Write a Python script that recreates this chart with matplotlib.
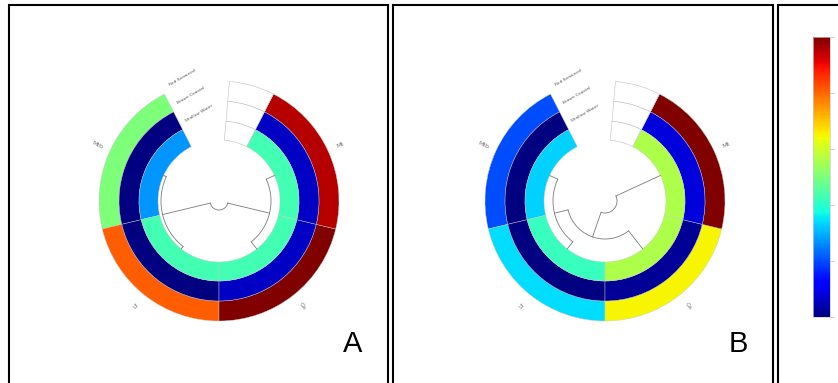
import numpy as np
import matplotlib.pyplot as plt
from matplotlib.patches import Rectangle
from matplotlib import colors, colorbar

# sectors, counter-clockwise starting at the left edge of the top gap
categories = ["Mtb", "Lf", "Gs", "Mt"]
ring_names = ["Red Seaweed", "Brown Coastal", "Shallow Water"]  # outer -> inner

# panel A, values scaled 0..1 (jet colormap)
a_outer = [0.50, 0.81, 1.00, 0.95]
a_middle = [0.00, 0.00, 0.06, 0.06]
a_inner = [0.27, 0.43, 0.43, 0.43]

# panel B
b_outer = [0.20, 0.34, 0.65, 1.00]
b_middle = [0.00, 0.00, 0.02, 0.08]
b_inner = [0.33, 0.42, 0.56, 0.56]

# dendrogram merges: (child, child, radius); leaves are 0..3, new nodes 4, 5, 6
a_merges = [(0, 1, 58), (2, 3, 52), (4, 5, 9)]
b_merges = [(0, 1, 52), (4, 2, 38), (5, 3, 12)]

cbar_ticks = [0.0, 0.2, 0.4, 0.6, 0.8, 1.0]

W, H = 838, 383
cmap = plt.get_cmap('jet')
START, SPAN = 117.0, 306.0
STEP = SPAN / len(categories)
RINGS = [(100, 120), (80, 100), (61, 80)]  # outer, middle, inner
LEAF_R = 61
RMAX = 135


def draw_panel(cx, cy, outer, middle, inner, merges):
    ax = fig.add_axes([(cx - RMAX) / W, (H - cy - RMAX) / H, 2 * RMAX / W, 2 * RMAX / H],
                      projection='polar')
    ax.set_ylim(0, RMAX)
    ax.axis('off')

    centers = np.array([START + STEP * (i + 0.5) for i in range(len(categories))])
    for vals, (r0, r1) in zip([outer, middle, inner], RINGS):
        ax.bar(np.deg2rad(centers), r1 - r0, width=np.deg2rad(STEP), bottom=r0,
               color=cmap(np.array(vals)), edgecolor='#c8c8c8', linewidth=0.3)
    # blank cells on the right side of the gap
    for r0, r1 in RINGS:
        ax.bar(np.deg2rad(74), r1 - r0, width=np.deg2rad(22), bottom=r0,
               color='white', edgecolor='#c0c0c0', linewidth=0.4)

    # ring labels at the left side of the gap
    for name, (r0, r1) in zip(ring_names, RINGS):
        ax.text(np.deg2rad(113), (r0 + r1) / 2 + 16, name, fontsize=3.2, color='#555555',
                rotation=30, ha='left', va='center', rotation_mode='anchor')

    # sector labels outside
    for ang, lab in zip(centers, categories):
        rot = ang - 180 if 90 < ang % 360 < 270 else (ang % 360 if ang % 360 < 90 else ang % 360 - 360)
        ax.text(np.deg2rad(ang), 134, lab, fontsize=4.5, color='#777777',
                rotation=rot, ha='center', va='center', rotation_mode='anchor')

    # polar dendrogram
    ang = {i: centers[i] for i in range(len(categories))}
    rad = {i: LEAF_R for i in range(len(categories))}
    node = len(categories)
    for c1, c2, r in merges:
        for c in (c1, c2):
            ax.plot([np.deg2rad(ang[c])] * 2, [rad[c], r], color='#7a7a7a', lw=0.6)
        t = np.deg2rad(np.linspace(ang[c1], ang[c2], 60))
        ax.plot(t, np.full_like(t, r), color='#7a7a7a', lw=0.6)
        ang[node] = (ang[c1] + ang[c2]) / 2
        rad[node] = r
        node += 1
    return ax


fig = plt.figure(figsize=(W / 100, H / 100), dpi=100)

# panel frames
for x0, x1 in [(8.5, 388), (393, 773), (778, 900)]:
    fig.add_artist(Rectangle((x0 / W, -0.05), (x1 - x0) / W, (H - 5) / H + 0.05,
                             transform=fig.transFigure, fill=False,
                             edgecolor='black', linewidth=1.5))

draw_panel(219, 201, a_outer, a_middle, a_inner, a_merges)
draw_panel(605, 201, b_outer, b_middle, b_inner, b_merges)

fig.text(353 / W, 1 - 344 / H, 'A', fontsize=21, family='Liberation Sans',
         ha='center', va='center')
fig.text(738 / W, 1 - 344 / H, 'B', fontsize=21, family='Liberation Sans',
         ha='center', va='center')

# colourbar panel (its tick labels fall outside the cropped picture)
cax = fig.add_axes([813 / W, (H - 317) / H, 17 / W, 280 / H])
cb = colorbar.ColorbarBase(cax, cmap=cmap, norm=colors.Normalize(0, 1), ticks=cbar_ticks)
cb.outline.set_edgecolor('#cccccc')
cb.outline.set_linewidth(0.5)
cax.tick_params(length=3, width=0.5, color='#bbbbbb', labelright=False)

fig.savefig('out.png', dpi=100)
